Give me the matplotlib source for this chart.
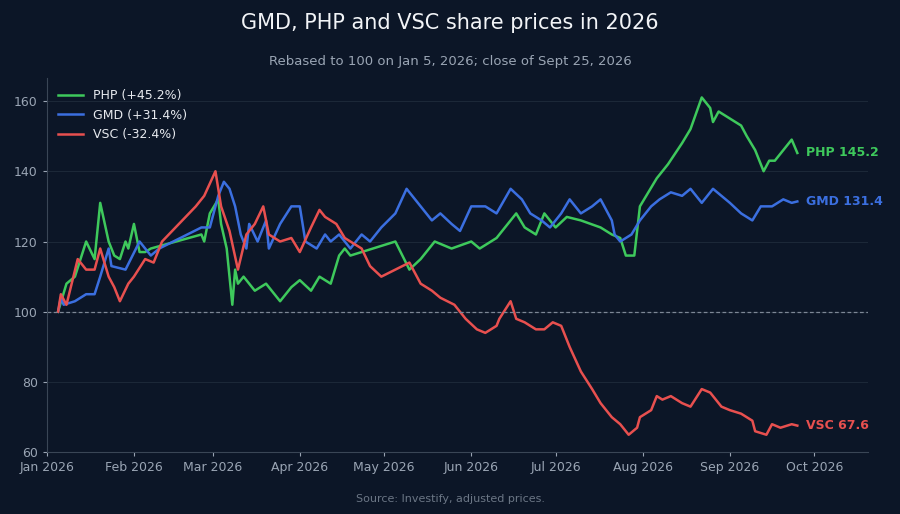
import matplotlib
matplotlib.use("Agg")
import matplotlib.pyplot as plt
import matplotlib.dates as mdates
import pandas as pd

# day offsets from Jan 1 2026, values rebased to 100
php_days = [4, 7, 10, 14, 17, 19, 22, 24, 26, 28, 29, 31, 33, 35, 37, 55, 56, 58, 61, 62, 64, 66, 67, 68, 70, 74, 78, 83, 87, 90, 94, 97, 101, 104, 106, 108,
            124, 129, 133, 138, 144, 151, 154, 160, 167, 170, 174, 177, 181, 185, 190, 197, 201, 204, 206, 209, 211, 217, 221, 226, 229, 233, 236, 237, 239,
            243, 247, 249, 252, 255, 257, 259, 262, 265, 267]
php_vals = [100, 108, 110, 120, 115, 131, 120, 116, 115, 120, 118, 125, 117, 117, 118, 122, 120, 128, 132, 125, 118, 102, 112, 108, 110, 106, 108, 103, 107, 109, 106, 110, 108, 116, 118, 116,
            120, 112, 115, 120, 118, 120, 118, 121, 128, 124, 122, 128, 124, 127, 126, 124, 122, 121, 116, 116, 130, 138, 142, 148, 152, 161, 158, 154, 157,
            155, 153, 150, 146, 140, 143, 143, 146, 149, 145.2]

gmd_days = [4, 5, 6, 10, 14, 17, 19, 22, 23, 28, 33, 37, 40, 55, 58, 61, 63, 65, 67, 69, 71, 72, 75, 78, 79, 83, 87, 90, 92, 96, 99, 101, 104, 108, 112, 115, 119,
            124, 128, 133, 137, 140, 144, 147, 151, 156, 160, 165, 169, 172, 176, 179, 183, 186, 190, 194, 197, 201, 202, 204, 208, 211, 215, 218, 222, 226,
            229, 233, 237, 240, 243, 247, 251, 254, 258, 262, 265, 267]
gmd_vals = [100, 104, 102, 103, 105, 105, 110, 118, 113, 112, 120, 116, 118, 124, 124, 133, 137, 135, 130, 122, 118, 125, 120, 126, 118, 125, 130, 130, 120, 118, 122, 120, 122, 118, 122, 120, 124,
            128, 135, 130, 126, 128, 125, 123, 130, 130, 128, 135, 132, 128, 126, 124, 128, 132, 128, 130, 132, 126, 122, 120, 122, 126, 130, 132, 134, 133,
            135, 131, 135, 133, 131, 128, 126, 130, 130, 132, 131, 131.4]

vsc_days = [4, 5, 7, 11, 14, 17, 19, 22, 24, 26, 29, 31, 35, 38, 41, 53, 56, 60, 62, 65, 68, 71, 74, 77, 79, 83, 87, 90, 94, 97, 99, 103, 106, 112, 115, 119,
            124, 129, 133, 137, 140, 145, 149, 153, 156, 160, 161, 165, 167, 170, 174, 177, 180, 183, 186, 190, 194, 197, 201, 204, 207, 210, 211, 215, 217,
            219, 222, 226, 229, 233, 236, 240, 243, 247, 251, 252, 256, 258, 261, 265, 267]
vsc_vals = [100, 105, 102, 115, 112, 112, 118, 110, 107, 103, 108, 110, 115, 114, 120, 130, 133, 140, 130, 123, 112, 122, 125, 130, 122, 120, 121, 117, 124, 129, 127, 125, 121, 118, 113, 110,
            112, 114, 108, 106, 104, 102, 98, 95, 94, 96, 98, 103, 98, 97, 95, 95, 97, 96, 90, 83, 78, 74, 70, 68, 65, 67, 70, 72, 76,
            75, 76, 74, 73, 78, 77, 73, 72, 71, 69, 66, 65, 68, 67, 68, 67.6]

series = [
    ("PHP", php_days, php_vals, "#3ec95c", "+45.2%"),
    ("GMD", gmd_days, gmd_vals, "#3b6fe0", "+31.4%"),
    ("VSC", vsc_days, vsc_vals, "#e8504f", "-32.4%"),
]

bg = "#0c1627"
txt = "#9aa5b4"
start = pd.Timestamp("2026-01-01")

fig = plt.figure(figsize=(9, 5.14), dpi=100, facecolor=bg)
ax = fig.add_axes([0.052, 0.12, 0.912, 0.728], facecolor=bg)

for name, days, vals, col, chg in series:
    dates = start + pd.to_timedelta(days, unit="D")
    ax.plot(dates, vals, color=col, lw=1.8, label=f"{name} ({chg})")
    ax.text(dates[-1] + pd.Timedelta(days=3), vals[-1], f"{name} {vals[-1]:.1f}", color=col,
            fontsize=9, fontweight="bold", va="center")

ax.axhline(100, color="#7d8796", lw=0.9, ls=(0, (3, 2)))
ax.set_ylim(60, 166.5)
ax.set_xlim(pd.Timestamp("2026-01-01"), pd.Timestamp("2026-10-20"))
ax.set_yticks([60, 80, 100, 120, 140, 160])
ax.xaxis.set_major_locator(mdates.MonthLocator())
ax.xaxis.set_major_formatter(mdates.DateFormatter("%b %Y"))
ax.grid(axis="y", color="#1c2838", lw=0.8)
ax.tick_params(colors=txt, labelsize=9, length=3)
for s in ["top", "right"]:
    ax.spines[s].set_visible(False)
for s in ["left", "bottom"]:
    ax.spines[s].set_color("#3a4656")

leg = ax.legend(loc="upper left", frameon=False, fontsize=9, labelcolor="#e6e9ee", handlelength=2)

fig.text(0.5, 0.955, "GMD, PHP and VSC share prices in 2026", ha="center", va="center", color="#f2f4f7", fontsize=15)
fig.text(0.5, 0.88, "Rebased to 100 on Jan 5, 2026; close of Sept 25, 2026", ha="center", va="center", color=txt, fontsize=9.5)
fig.text(0.5, 0.03, "Source: Investify, adjusted prices.", ha="center", va="center", color="#6b7685", fontsize=8)

fig.savefig("out.png", dpi=100, facecolor=bg)
